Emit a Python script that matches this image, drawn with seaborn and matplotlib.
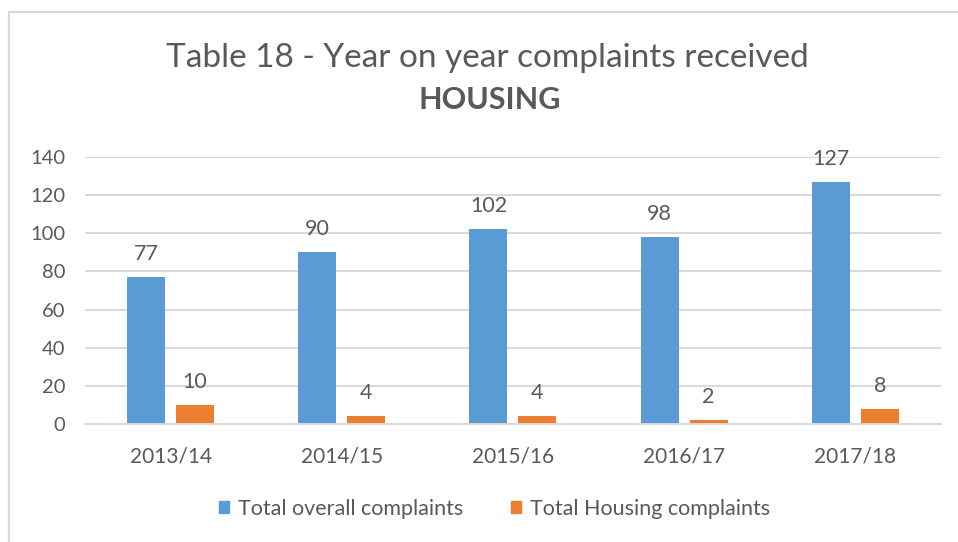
import matplotlib
matplotlib.use("Agg")
import matplotlib.pyplot as plt
import pandas as pd
import seaborn as sns
from matplotlib.lines import Line2D

# chart data
years = ["2013/14", "2014/15", "2015/16", "2016/17", "2017/18"]
overall = [77, 90, 102, 98, 127]
housing = [10, 4, 4, 2, 8]
series = ["Total overall complaints", "Total Housing complaints"]
palette = ["#5B9BD5", "#ED7D31"]
yticks = [0, 20, 40, 60, 80, 100, 120, 140]

df = pd.DataFrame({
    "year": years * 2,
    "count": overall + housing,
    "series": [series[0]] * len(years) + [series[1]] * len(years),
})

sns.set_theme(style="white")
plt.rcParams["font.family"] = ["Lato", "DejaVu Sans"]
grey = "#595959"
grid = "#D9D9D9"

fig = plt.figure(figsize=(9.58, 5.42), dpi=100)
ax = fig.add_axes([0.0887, 0.2177, 0.8935, 0.4926])

sns.barplot(data=df, x="year", y="count", hue="series", palette=palette,
            saturation=1, width=0.572, gap=0.224, linewidth=0, ax=ax)

for cont in ax.containers:
    ax.bar_label(cont, padding=9.5, fontsize=15.5, color=grey)

ax.set_ylim(0, 140)
ax.set_xlim(-0.5, len(years) - 0.5)
ax.set_yticks(yticks)
ax.set_xlabel("")
ax.set_ylabel("")
ax.yaxis.grid(True, color=grid, linewidth=1.4)
ax.set_axisbelow(True)
sns.despine(ax=ax, left=True, right=True, top=True, bottom=False)
ax.spines["bottom"].set_color(grid)
ax.spines["bottom"].set_linewidth(1.4)
ax.tick_params(axis="y", length=0, pad=14, labelsize=14.5, labelcolor=grey)
ax.tick_params(axis="x", length=0, pad=16, labelsize=15, labelcolor=grey)

ax.legend_.remove()
handles = [plt.Rectangle((0, 0), 1, 1, color=c) for c in palette]
fig.legend(handles, series, loc="center", bbox_to_anchor=(0.516, 0.061),
           ncol=2, frameon=False, fontsize=15.5, labelcolor=grey,
           handlelength=0.5, handleheight=0.5, handletextpad=0.4,
           columnspacing=2.2)

fig.text(0.509, 0.893, "Table 18 - Year on year complaints received",
         ha="center", va="center", fontsize=24, color=grey)
fig.text(0.511, 0.815, "HOUSING", ha="center", va="center", fontsize=22,
         fontweight="bold", color=grey)

# light chart frame (only top and left edges visible)
fx = 9 / 958
fy = 1 - 12 / 542
fig.add_artist(Line2D([fx, 1], [fy, fy], color=grid, linewidth=1.6))
fig.add_artist(Line2D([fx, fx], [0, fy], color=grid, linewidth=1.6))

fig.savefig("out.png", dpi=100)
